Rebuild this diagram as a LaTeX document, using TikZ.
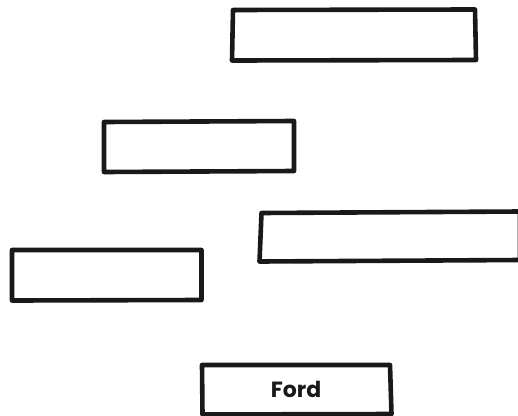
\documentclass[tikz,border=0pt]{standalone}
\usepackage{fontspec}
\newfontfamily\boxfont{Poppins}[UprightFont=* Bold]

\begin{document}
\begin{tikzpicture}[x=1pt,y=-1pt,line width=4.6pt,line join=round,line cap=round]
\useasboundingbox (0,0) rectangle (518,415);
\draw[black!90] (233,10) -- (475,9.5) -- (476,60) -- (232,60.5) -- cycle;
\draw[black!90] (104,122) -- (294,121) -- (294,171) -- (104,172) -- cycle;
\draw[black!90] (261.5,213) -- (520,211.5) -- (520,260) -- (259.5,261.5) -- cycle;
\draw[black!90] (12,250) -- (201.5,250) -- (201.5,300) -- (12,300.5) -- cycle;
\draw[black!90] (202,365) -- (390,365) -- (391.5,414) -- (202.5,414.5) -- cycle;
\node[text=black!90] (ford) at (296,389) {\boxfont\fontsize{22}{26}\selectfont Ford};
\end{tikzpicture}
\end{document}
